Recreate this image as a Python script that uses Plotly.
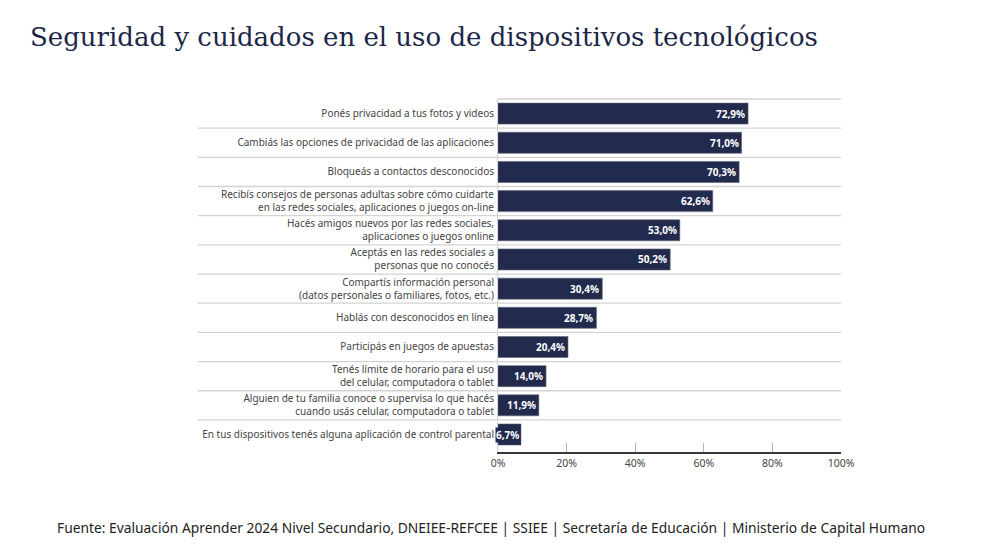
import plotly.graph_objects as go

categories = [
    "Ponés privacidad a tus fotos y videos",
    "Cambiás las opciones de privacidad de las aplicaciones",
    "Bloqueás a contactos desconocidos",
    "Recibís consejos de personas adultas sobre cómo cuidarte<br>en las redes sociales, aplicaciones o juegos on-line",
    "Hacés amigos nuevos por las redes sociales,<br>aplicaciones o juegos online",
    "Aceptás en las redes sociales a<br>personas que no conocés",
    "Compartís información personal<br>(datos personales o familiares, fotos, etc.)",
    "Hablás con desconocidos en línea",
    "Participás en juegos de apuestas",
    "Tenés límite de horario para el uso<br>del celular, computadora o tablet",
    "Alguien de tu familia conoce o supervisa lo que hacés<br>cuando usás celular, computadora o tablet",
    "En tus dispositivos tenés alguna aplicación de control parental",
]
values = [72.9, 71.0, 70.3, 62.6, 53.0, 50.2, 30.4, 28.7, 20.4, 14.0, 11.9, 6.7]
tick_vals = [0, 20, 40, 60, 80, 100]
tick_text = ["0%", "20%", "40%", "60%", "80%", "100%"]

NAVY = "#222a4d"
FONT = "Noto Sans"

labels = [f"{v:.1f}".replace(".", ",") + "%" for v in values]

fig = go.Figure(go.Bar(
    x=values,
    y=categories,
    orientation="h",
    width=0.72,
    marker=dict(color=NAVY, line=dict(color="#5c6275", width=0.6)),
    hoverinfo="skip",
))

# value labels just inside the end of each bar
# (navy backing so a label slightly wider than its bar still reads)
annotations = []
for cat, v, lab in zip(categories, values, labels):
    annotations.append(dict(
        x=v, y=cat, xref="x", yref="y", text=lab, showarrow=False,
        xanchor="right", xshift=-1 if v < 10 else -2,
        borderpad=0, bgcolor=NAVY,
        font=dict(family=FONT, size=10, color="white", weight="bold"),
    ))

annotations.append(dict(
    text="Fuente: Evaluación Aprender 2024 Nivel Secundario, DNEIEE-REFCEE | SSIEE | Secretaría de Educación | Ministerio de Capital Humano",
    xref="paper", yref="paper", x=(491 - 498) / 343, xanchor="center",
    y=-(527 - 452) / 353, yanchor="middle", showarrow=False,
    font=dict(family=FONT, size=13.8, color="#222222"),
))

# separators between rows, extending into the label area
shapes = []
for i in range(len(categories) - 1):
    shapes.append(dict(type="line", xref="paper", yref="y",
                       x0=-0.875, x1=1, y0=i + 0.5, y1=i + 0.5,
                       line=dict(color="#d3d3d3", width=1.3), layer="below"))
shapes.append(dict(type="line", xref="paper", yref="paper",
                   x0=0, x1=1, y0=1, y1=1,
                   line=dict(color="#d3d3d3", width=1.3), layer="below"))

fig.update_layout(
    width=984, height=530,
    margin=dict(l=490, r=151, t=91, b=86),
    paper_bgcolor="white", plot_bgcolor="white",
    showlegend=False,
    shapes=shapes,
    annotations=annotations,
    title=dict(
        text="Seguridad y cuidados en el uso de dispositivos tecnológicos",
        x=22 / 984, xanchor="left", y=1 - 29 / 530, yanchor="middle",
        font=dict(family="DejaVu Serif", size=26, color="#1c2748"),
    ),
    xaxis=dict(
        range=[0, 100],
        tickvals=tick_vals, ticktext=tick_text,
        ticks="inside", ticklen=9, tickcolor="#b5b5b5", tickwidth=1.2,
        showgrid=False, zeroline=False,
        showline=True, linecolor="#3a3a3a", linewidth=2,
        tickfont=dict(family=FONT, size=10.5, color="#444444"),
        fixedrange=True,
    ),
    yaxis=dict(
        range=[11.6, -0.5],
        showgrid=False, zeroline=False,
        showline=True, linecolor="#d3d3d3", linewidth=1,
        ticks="", ticklabelstandoff=1,
        tickfont=dict(family=FONT, size=10, color="#444444"),
        fixedrange=True,
    ),
)

fig.write_html("out.html")
